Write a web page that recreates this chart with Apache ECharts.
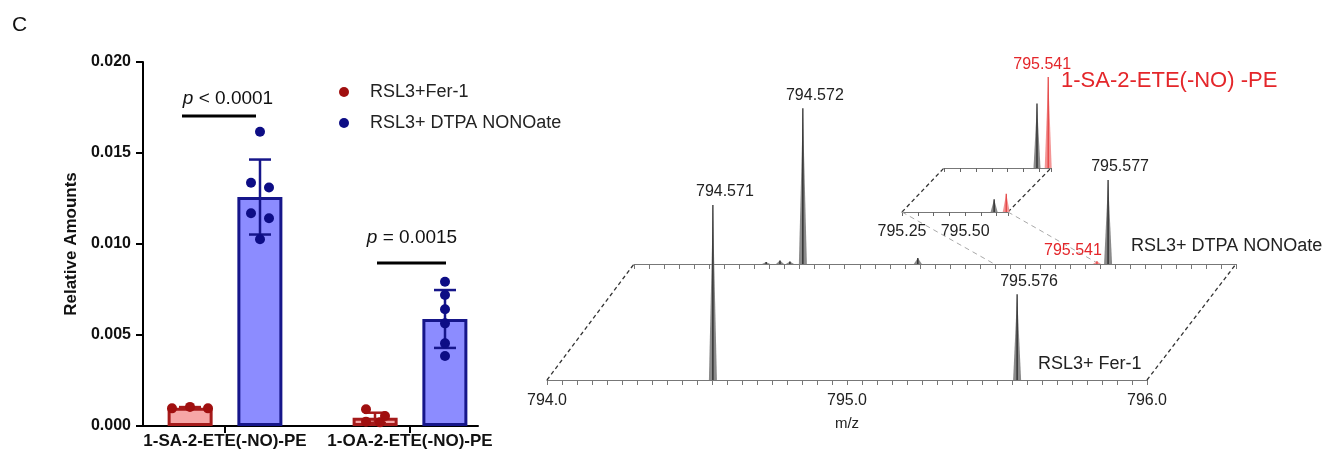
<!DOCTYPE html>
<html>
<head>
<meta charset="utf-8">
<script src="https://cdn.jsdelivr.net/npm/echarts@6/dist/echarts.min.js"></script>
<style>
html, body { margin: 0; padding: 0; background: #fff; }
#main { width: 1336px; height: 457px; }
</style>
</head>
<body>
<div id="main"></div>
<script>
// ---- bar panel data ----
const categories = ['1-SA-2-ETE(-NO)-PE', '1-OA-2-ETE(-NO)-PE'];
const groupNames = ['RSL3+Fer-1', 'RSL3+ DTPA NONOate'];
const meanFer = [0.00100, 0.00045];
const meanDtpa = [0.01258, 0.00588];
const sdFer = [0.00004, 0.00028];
const sdDtpa = [0.00206, 0.00159];
const dotsFer = [
  [0.00097, 0.00105, 0.00097],
  [0.00092, 0.00055, 0.00024, 0.00020]
];
const dotsDtpa = [
  [0.01617, 0.01337, 0.01310, 0.01169, 0.01141, 0.01026],
  [0.00793, 0.00720, 0.00641, 0.00564, 0.00454, 0.00385]
];
const pTexts = ['< 0.0001', '= 0.0015'];
const pLineAt = [0.01703, 0.00896];
const pTextAt = [0.01800, 0.01035];

// ---- spectra data (m/z, relative intensity) ----
const mzFer = [794.553, 795.567];
const intFer = [100, 49];
const redFer = [0, 0];
const lblFer = ['794.571', '795.576'];

const mzDtpa = [794.439, 794.485, 794.518, 794.561, 794.943, 795.538, 795.575];
const intDtpa = [1.2, 2, 1.5, 89, 3.4, 1.6, 48];
const redDtpa = [0, 0, 0, 0, 0, 1, 0];
const lblDtpa = ['', '', '', '794.572', '', '795.541', '795.577'];

const mzZoomFer = [795.615, 795.663];
const intZoomFer = [14, 20];
const redZoomFer = [0, 1];
const lblZoomFer = ['', ''];

const mzZoomDtpa = [795.615, 795.659];
const intZoomDtpa = [71, 100];
const redZoomDtpa = [0, 1];
const lblZoomDtpa = ['', '795.541'];

const mainTicks = [794.0, 795.0, 796.0];
const zoomTicks = [795.25, 795.50];

// ---- styles ----
const FONT = '"Liberation Sans", Arial, sans-serif';
const RED_FILL = '#f6a6a6', RED_EDGE = '#a51a1a', RED_DOT = '#a00f0f';
const BLUE_FILL = '#8c8cff', BLUE_EDGE = '#16168a', BLUE_DOT = '#0d0d85';
const barShift = 35;
const jitter = [
  [[-18, 0, 18], [-9, 10, -9, 5]],
  [[0, -9, 9, -9, 9, 0], [0, 0, 0, 0, 0, 0]]
];
const sigSpan = [[-43, 31], [-33, 36]];
const sigTextShift = [3, 2];

const chart = echarts.init(document.getElementById('main'));

const dotData = [];
[dotsFer, dotsDtpa].forEach((arr, g) => arr.forEach((vals, c) => vals.forEach((v, k) => dotData.push([c, v, g, k]))));
const errData = [];
categories.forEach((_, c) => {
  errData.push([c, meanFer[c], sdFer[c], 0]);
  errData.push([c, meanDtpa[c], sdDtpa[c], 1]);
});

function peakSeries(axis, mz, ints, reds, lbls, hw, shifts, z) {
  return {
    type: 'custom', xAxisIndex: axis, yAxisIndex: axis, z: z, silent: true,
    data: mz.map((m, i) => [m, ints[i], reds[i]]),
    encode: { x: 0, y: 1 },
    renderItem: function (params, api) {
      const base = api.coord([api.value(0), 0]);
      const top = api.coord([api.value(0), api.value(1)]);
      const red = api.value(2) === 1;
      const kids = [
        { type: 'polygon', shape: { points: [[base[0] - hw, base[1]], [top[0], top[1]], [base[0] + hw, base[1]]] },
          style: { fill: red ? '#f39595' : '#8a8a8a' } },
        { type: 'line', shape: { x1: top[0], y1: top[1], x2: base[0], y2: base[1] },
          style: { stroke: red ? '#e23a3a' : '#1e1e1e', lineWidth: 1.2 } }
      ];
      const t = lbls[params.dataIndex];
      if (t) {
        const s = shifts(red);
        kids.push({ type: 'text', style: { text: t, x: top[0] + s[0], y: top[1] + s[1], align: 'center', verticalAlign: 'middle',
          fontSize: 16, fontFamily: FONT, fill: red ? '#e4262a' : '#222' } });
      }
      return { type: 'group', children: kids };
    }
  };
}

function specX(gi, opts) {
  return Object.assign({
    type: 'value', gridIndex: gi,
    axisLine: { show: true, lineStyle: { color: '#777', width: 1.2 } },
    axisTick: { show: true, length: 5, lineStyle: { color: '#777' } },
    splitLine: { show: false },
    axisLabel: { show: false }
  }, opts);
}

const option = {
  animation: false,
  textStyle: { fontFamily: FONT },
  legend: {
    orient: 'vertical', left: 334, top: 78, itemWidth: 10, itemHeight: 10, itemGap: 13,
    textStyle: { fontSize: 18, color: '#222', padding: [0, 0, 0, 16] },
    data: [
      { name: groupNames[0], icon: 'circle', itemStyle: { color: RED_DOT, borderWidth: 0 } },
      { name: groupNames[1], icon: 'circle', itemStyle: { color: BLUE_DOT, borderWidth: 0 } }
    ]
  },
  grid: [
    { left: 143, top: 62, width: 335, height: 364 },
    { left: 132.5, top: 62, width: 370, height: 364 },
    { left: 547, top: 205, width: 600, height: 175 },
    { left: 634, top: 89, width: 602, height: 175 },
    { left: 902, top: 121, width: 106, height: 91 },
    { left: 944, top: 77, width: 107, height: 91 }
  ],
  xAxis: [
    { type: 'value', gridIndex: 0, min: 0, max: 1,
      axisLine: { show: true, lineStyle: { color: '#000', width: 2 } },
      axisTick: { show: false }, axisLabel: { show: false }, splitLine: { show: false } },
    { type: 'category', gridIndex: 1, data: categories,
      axisLine: { show: false },
      axisTick: { show: true, alignWithLabel: true, length: 7, lineStyle: { color: '#000', width: 2 } },
      axisLabel: { interval: 0, hideOverlap: false, fontSize: 17, fontWeight: 'bold', color: '#111', margin: 7 } },
    specX(2, { min: 794, max: 796, interval: 0.05,
      axisLabel: { show: true, customValues: mainTicks, formatter: v => v.toFixed(1), fontSize: 16, color: '#222', margin: 13 },
      name: 'm/z', nameLocation: 'middle', nameGap: 36, nameTextStyle: { fontSize: 15, color: '#222' } }),
    specX(3, { min: 794, max: 796, interval: 0.05 }),
    specX(4, { min: 795.25, max: 795.67, interval: 0.0625, axisTick: { show: true, length: 4, lineStyle: { color: '#666' } },
      axisLabel: { show: true, customValues: zoomTicks, formatter: v => v.toFixed(2), fontSize: 16, color: '#222', margin: 12 } }),
    specX(5, { min: 795.25, max: 795.67, interval: 0.0625, axisTick: { show: true, length: 4, lineStyle: { color: '#666' } } })
  ],
  yAxis: [
    { type: 'value', gridIndex: 0, min: 0, max: 0.02, interval: 0.005,
      axisLine: { show: true, lineStyle: { color: '#000', width: 2 } },
      axisTick: { show: true, length: 7, lineStyle: { color: '#000', width: 2 } },
      axisLabel: { formatter: v => v.toFixed(3), fontSize: 16, fontWeight: 'bold', color: '#111', margin: 12 },
      splitLine: { show: false },
      name: 'Relative Amounts', nameLocation: 'middle', nameGap: 63,
      nameTextStyle: { fontSize: 17, fontWeight: 'bold', color: '#111' } },
    { type: 'value', gridIndex: 1, min: 0, max: 0.02, show: false },
    { type: 'value', gridIndex: 2, min: 0, max: 100, show: false },
    { type: 'value', gridIndex: 3, min: 0, max: 100, show: false },
    { type: 'value', gridIndex: 4, min: 0, max: 100, show: false },
    { type: 'value', gridIndex: 5, min: 0, max: 100, show: false }
  ],
  series: [
    { name: groupNames[0], type: 'bar', xAxisIndex: 1, yAxisIndex: 1, data: meanFer,
      barWidth: 45, barGap: '55%',
      itemStyle: { color: RED_FILL, borderColor: RED_EDGE, borderWidth: 3 } },
    { name: groupNames[1], type: 'bar', xAxisIndex: 1, yAxisIndex: 1, data: meanDtpa,
      barWidth: 45, barGap: '55%',
      itemStyle: { color: BLUE_FILL, borderColor: BLUE_EDGE, borderWidth: 3 } },
    { type: 'custom', xAxisIndex: 1, yAxisIndex: 1, z: 5, silent: true, data: errData, encode: { x: 0, y: 1 },
      renderItem: function (params, api) {
        const g = api.value(3);
        const m = api.value(1), sd = api.value(2);
        const hi = api.coord([api.value(0), m + sd]);
        const lo = api.coord([api.value(0), m - sd]);
        const x = hi[0] + (g ? barShift : -barShift);
        const col = g ? BLUE_EDGE : RED_EDGE;
        const st = { stroke: col, lineWidth: 2.5 };
        return { type: 'group', children: [
          { type: 'line', shape: { x1: x, y1: hi[1], x2: x, y2: lo[1] }, style: st },
          { type: 'line', shape: { x1: x - 11, y1: hi[1], x2: x + 11, y2: hi[1] }, style: st },
          { type: 'line', shape: { x1: x - 11, y1: lo[1], x2: x + 11, y2: lo[1] }, style: st }
        ] };
      } },
    { type: 'custom', xAxisIndex: 1, yAxisIndex: 1, z: 6, silent: true, data: dotData, encode: { x: 0, y: 1 },
      renderItem: function (params, api) {
        const c = api.value(0), g = api.value(2), k = api.value(3);
        const p = api.coord([c, api.value(1)]);
        const x = p[0] + (g ? barShift : -barShift) + jitter[g][c][k];
        return { type: 'circle', shape: { cx: x, cy: p[1], r: 5 }, style: { fill: g ? BLUE_DOT : RED_DOT } };
      } },
    { type: 'custom', xAxisIndex: 1, yAxisIndex: 1, z: 6, silent: true,
      data: categories.map((_, c) => [c, pLineAt[c], pTextAt[c]]), encode: { x: 0, y: 1 },
      renderItem: function (params, api) {
        const c = api.value(0);
        const l = api.coord([c, api.value(1)]);
        const t = api.coord([c, api.value(2)]);
        return { type: 'group', children: [
          { type: 'line', shape: { x1: l[0] + sigSpan[c][0], y1: l[1], x2: l[0] + sigSpan[c][1], y2: l[1] },
            style: { stroke: '#000', lineWidth: 3 } },
          { type: 'text', style: { text: '{i|p} ' + pTexts[c], x: t[0] + sigTextShift[c], y: t[1], align: 'center', verticalAlign: 'middle',
            fontSize: 19, fontFamily: FONT, fill: '#111',
            rich: { i: { fontStyle: 'italic', fontSize: 19, fontFamily: FONT, fill: '#111' } } } }
        ] };
      } },
    peakSeries(3, mzDtpa, intDtpa, redDtpa, lblDtpa, 4, red => red ? [-24, -11] : [12, -13], 3),
    peakSeries(2, mzFer, intFer, redFer, lblFer, 4, () => [12, -13], 4),
    peakSeries(4, mzZoomFer, intZoomFer, redZoomFer, lblZoomFer, 3.5, () => [0, -12], 5),
    peakSeries(5, mzZoomDtpa, intZoomDtpa, redZoomDtpa, lblZoomDtpa, 3.5, () => [-6, -12], 5)
  ]
};

chart.setOption(option);

// connectors between the stacked spectrum planes, placed through the axes
const px = (g, v) => chart.convertToPixel({ gridIndex: g }, v);
function dashed(a, b, color, w, dash) {
  return { type: 'line', silent: true, z: 2,
    shape: { x1: a[0], y1: a[1], x2: b[0], y2: b[1] },
    style: { stroke: color, lineWidth: w, lineDash: dash } };
}
const graphics = [
  dashed(px(2, [794, 0]), px(3, [794, 0]), '#333', 1.3, [4, 3]),
  dashed(px(2, [796, 0]), px(3, [796, 0]), '#333', 1.3, [4, 3]),
  dashed(px(4, [795.25, 0]), px(5, [795.25, 0]), '#333', 1.3, [4, 3]),
  dashed(px(4, [795.67, 0]), px(5, [795.67, 0]), '#333', 1.3, [4, 3]),
  dashed(px(4, [795.25, 0]), px(3, [795.197, 0]), '#a8a8a8', 1, [5, 4]),
  dashed(px(4, [795.67, 0]), px(3, [795.545, 0]), '#a8a8a8', 1, [5, 4]),
  { type: 'text', left: 12, top: 15, style: { text: 'C', fontSize: 21, fontFamily: FONT, fill: '#111' } },
  { type: 'text', left: 1061, top: 70, style: { text: '1-SA-2-ETE(-NO) -PE', fontSize: 22, fontFamily: FONT, fill: '#e4262a' } },
  { type: 'text', left: 1131, top: 237, style: { text: 'RSL3+ DTPA NONOate', fontSize: 18, fontFamily: FONT, fill: '#222' } },
  { type: 'text', left: 1038, top: 355, style: { text: 'RSL3+ Fer-1', fontSize: 18, fontFamily: FONT, fill: '#222' } }
];
chart.setOption({ graphic: graphics });
</script>
</body>
</html>
